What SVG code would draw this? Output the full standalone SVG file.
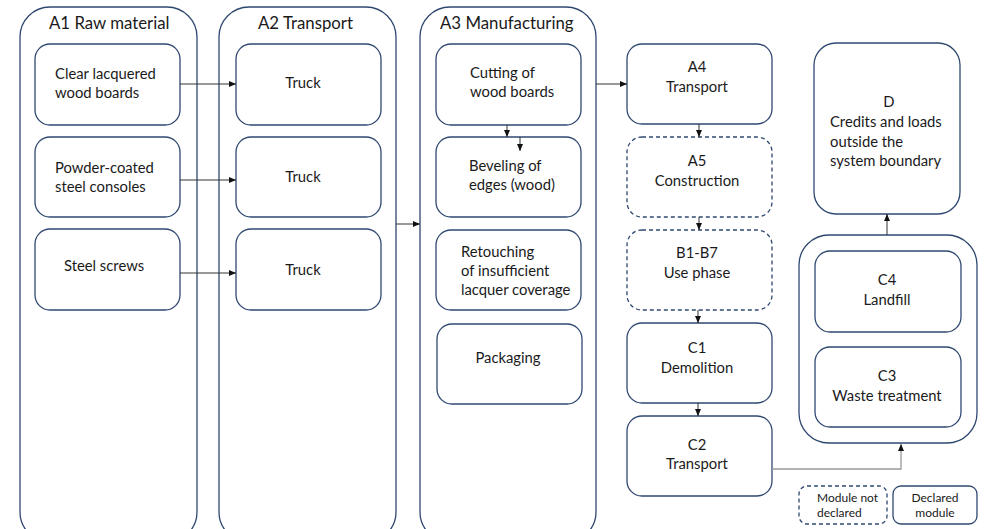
<svg xmlns="http://www.w3.org/2000/svg" width="984" height="529" viewBox="0 0 984 529">
<defs>
<style>
.c{fill:#fff;stroke:#2f4870;stroke-width:1.3}
.b{fill:#fff;stroke:#2f4870;stroke-width:1.3}
.d{fill:#fff;stroke:#2f4870;stroke-width:1.3;stroke-dasharray:4 3}
text{font-family:Lato,"Open Sans",sans-serif;fill:#1a1a1a;font-size:14.8px}
.h{font-size:16.8px}
.m{text-anchor:middle}
.s{font-size:12px}
.l{fill:none;stroke:#333;stroke-width:1}
.g{fill:none;stroke:#999;stroke-width:1.3}
</style>
<marker id="a" markerWidth="8" markerHeight="8" refX="7" refY="4" orient="auto" markerUnits="userSpaceOnUse"><path d="M0,1 L7,4 L0,7 Z" fill="#111"/></marker>
</defs>
<rect width="984" height="529" fill="#fff"/>
<g id="A1">
<rect class="c" x="20" y="7" width="177" height="535" rx="30"/>
<text class="h" x="49" y="29">A1 Raw material</text>
</g>
<g id="A2">
<rect class="c" x="219" y="7" width="177" height="535" rx="30"/>
<text class="h" x="258" y="29">A2 Transport</text>
</g>
<g id="A3">
<rect class="c" x="420" y="7" width="176" height="535" rx="30"/>
<text class="h" x="440" y="29">A3 Manufacturing</text>
</g>
<g id="n-wood"><rect class="b" x="35" y="44" width="145" height="81" rx="15"/><text x="55" y="79">Clear lacquered</text><text x="55" y="98">wood boards</text></g>
<g id="n-steel"><rect class="b" x="35" y="137" width="145" height="80" rx="15"/><text x="55" y="173">Powder-coated</text><text x="55" y="192">steel consoles</text></g>
<g id="n-screws"><rect class="b" x="35" y="229" width="145" height="81" rx="15"/><text x="64" y="271">Steel screws</text></g>
<g id="n-truck1"><rect class="b" x="236" y="44" width="145" height="81" rx="15"/><text class="m" x="303" y="88">Truck</text></g>
<g id="n-truck2"><rect class="b" x="236" y="137" width="145" height="80" rx="15"/><text class="m" x="303" y="182">Truck</text></g>
<g id="n-truck3"><rect class="b" x="236" y="229" width="145" height="81" rx="15"/><text class="m" x="303" y="275">Truck</text></g>
<g id="n-cut"><rect class="b" x="436" y="44" width="145" height="81" rx="15"/><text x="470" y="78">Cutting of</text><text x="470" y="97">wood boards</text></g>
<g id="n-bevel"><rect class="b" x="436" y="137" width="145" height="80" rx="15"/><text x="469" y="171">Beveling of</text><text x="469" y="190">edges (wood)</text></g>
<g id="n-retouch"><rect class="b" x="436" y="230" width="145" height="80" rx="15"/><text x="461" y="257">Retouching</text><text x="461" y="276">of insufficient</text><text x="461" y="295">lacquer coverage</text></g>
<g id="n-pack"><rect class="b" x="437" y="324" width="145" height="80" rx="15"/><text class="m" x="508" y="363">Packaging</text></g>
<g id="n-A4"><rect class="b" x="627" y="44" width="145" height="80" rx="15"/><text class="m" x="697" y="72">A4</text><text class="m" x="697" y="92">Transport</text></g>
<g id="n-A5"><rect class="d" x="627" y="137" width="145" height="80" rx="15"/><text class="m" x="697" y="166">A5</text><text class="m" x="697" y="186">Construction</text></g>
<g id="n-B"><rect class="d" x="627" y="230" width="145" height="80" rx="15"/><text class="m" x="697" y="258">B1-B7</text><text class="m" x="697" y="278">Use phase</text></g>
<g id="n-C1"><rect class="b" x="627" y="323" width="145" height="80" rx="15"/><text class="m" x="697" y="353">C1</text><text class="m" x="697" y="373">Demolition</text></g>
<g id="n-C2"><rect class="b" x="627" y="416" width="145" height="80" rx="15"/><text class="m" x="697" y="450">C2</text><text class="m" x="697" y="469">Transport</text></g>
<g id="C"><rect class="c" x="799" y="235" width="178" height="208" rx="30"/></g>
<g id="n-C4"><rect class="b" x="815" y="251" width="146" height="81" rx="15"/><text class="m" x="887" y="285">C4</text><text class="m" x="887" y="305">Landfill</text></g>
<g id="n-C3"><rect class="b" x="815" y="347" width="146" height="80" rx="15"/><text class="m" x="887" y="381">C3</text><text class="m" x="887" y="401">Waste treatment</text></g>
<g id="n-D"><rect class="b" x="814" y="43" width="146" height="171" rx="22"/><text class="m" x="889" y="107">D</text><text x="830" y="127">Credits and loads</text><text x="830" y="147">outside the</text><text x="830" y="166">system boundary</text></g>
<g id="legend-nd"><rect class="d" x="799" y="486" width="88" height="38" rx="8"/><text class="s" x="817" y="502">Module not</text><text class="s" x="817" y="517">declared</text></g>
<g id="legend-d"><rect class="b" x="893" y="486" width="84" height="38" rx="8"/><text class="m s" x="935" y="502">Declared</text><text class="m s" x="935" y="517">module</text></g>
<g id="connectors">
<line class="l" x1="180" y1="84" x2="236" y2="84" marker-end="url(#a)"/>
<line class="l" x1="180" y1="180" x2="236" y2="180" marker-end="url(#a)"/>
<line class="l" x1="180" y1="273" x2="236" y2="273" marker-end="url(#a)"/>
<line class="l" x1="396" y1="224" x2="420" y2="224" marker-end="url(#a)"/>
<line class="l" x1="596" y1="84" x2="627" y2="84" marker-end="url(#a)"/>
<line class="l" x1="507" y1="125" x2="507" y2="137" marker-end="url(#a)"/>
<line class="l" x1="520" y1="137" x2="520" y2="151" marker-end="url(#a)"/>
<line class="l" x1="699" y1="124" x2="699" y2="137" marker-end="url(#a)"/>
<line class="l" x1="699" y1="217" x2="699" y2="230" marker-end="url(#a)"/>
<line class="l" x1="698" y1="310" x2="698" y2="323" marker-end="url(#a)"/>
<line class="l" x1="698" y1="403" x2="698" y2="416" marker-end="url(#a)"/>
<path class="g" d="M772,469 H901 V444" marker-end="url(#a)"/>
<line class="l" x1="887" y1="235" x2="887" y2="214" marker-end="url(#a)"/>
</g>
</svg>
